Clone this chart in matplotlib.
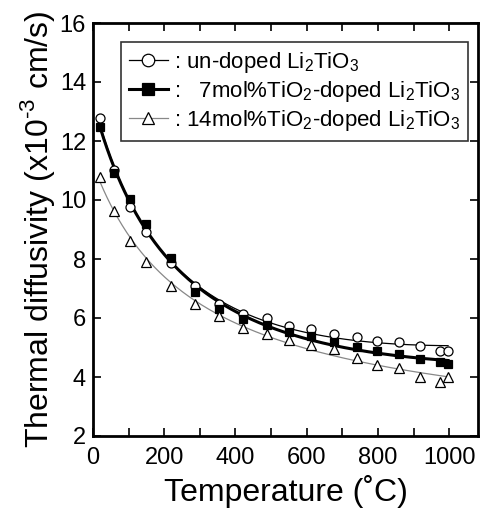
import numpy as np
import matplotlib
matplotlib.use("Agg")
import matplotlib.pyplot as plt
from matplotlib.lines import Line2D

plt.rcParams['font.family'] = ['Liberation Sans', 'DejaVu Sans']
plt.rcParams['mathtext.fontset'] = 'custom'
plt.rcParams['mathtext.rm'] = 'Liberation Sans'

temperature = [20, 60, 105, 150, 218, 286, 353, 420, 488, 551, 613, 676, 741, 797, 858, 917, 973, 997]
undoped = [12.77, 11.02, 9.77, 8.93, 7.87, 7.08, 6.47, 6.14, 6.00, 5.74, 5.64, 5.46, 5.35, 5.23, 5.18, 5.06, 4.89, 4.89]
doped7 = [12.49, 10.9, 10.02, 9.19, 8.02, 6.87, 6.31, 5.96, 5.75, 5.53, 5.38, 5.20, 5.03, 4.89, 4.77, 4.60, 4.50, 4.43]
doped14 = [10.77, 9.63, 8.61, 7.91, 7.09, 6.47, 6.08, 5.67, 5.45, 5.25, 5.08, 4.94, 4.65, 4.41, 4.29, 4.01, 3.84, 4.01]

labels = [": un-doped $\\mathregular{Li_2TiO_3}$",
          ":   7mol%$\\mathregular{TiO_2}$-doped $\\mathregular{Li_2TiO_3}$",
          ": 14mol%$\\mathregular{TiO_2}$-doped $\\mathregular{Li_2TiO_3}$"]

fig = plt.figure(figsize=(4.81, 5.09), dpi=100)
ax = fig.add_axes([93/481, 1-436/509, (478-93)/481, (436-23)/509])

T = np.array(temperature, float)

def fit_curve(y):
    tk = T + 273.0
    A = np.vstack([np.ones_like(tk), 1/tk, tk]).T
    coef, *_ = np.linalg.lstsq(A, np.array(y), rcond=None)
    tt = np.linspace(T.min(), T.max(), 300)
    tk2 = tt + 273.0
    return tt, coef[0] + coef[1]/tk2 + coef[2]*tk2

styles = [
    dict(color='black', lw=0.9, marker='o', mfc='white', mec='black', ms=6.5),
    dict(color='black', lw=2.2, marker='s', mfc='black', mec='black', ms=6),
    dict(color='#888888', lw=0.9, marker='^', mfc='white', mec='black', ms=6.5),
]
handles = []
for y, st in zip([undoped, doped7, doped14], styles):
    tt, yy = fit_curve(y)
    ax.plot(tt, yy, color=st['color'], lw=st['lw'], zorder=2)
    ax.plot(T, y, ls='none', marker=st['marker'], mfc=st['mfc'], mec=st['mec'],
            ms=st['ms'], mew=0.9, zorder=3)
    handles.append(Line2D([], [], color=st['color'], lw=st['lw'], marker=st['marker'],
                          mfc=st['mfc'], mec=st['mec'], ms=st['ms'] + 2.5, mew=0.9))

ax.set_xlim(0, 1081)
ax.set_ylim(2, 16)
ax.set_xticks(range(0, 1001, 200))
ax.set_xticks(range(0, 1001, 100), minor=True)
ax.set_yticks(range(2, 17, 2))
ax.tick_params(which='both', direction='in', top=True, right=True, labelsize=17,
               width=1.2, pad=5)
ax.tick_params(axis='x', which='both', pad=8)
ax.tick_params(which='major', length=6)
ax.tick_params(which='minor', length=6)
for s in ax.spines.values():
    s.set_linewidth(2)

ax.set_xlabel("Temperature (˚C)", fontsize=23, labelpad=4)
ax.set_ylabel("Thermal diffusivity (x10$^{\\text{-3}}$ cm/s)", fontsize=23, labelpad=2)

leg = ax.legend(handles, labels, loc='upper right', bbox_to_anchor=(0.975, 0.953),
                fontsize=16, frameon=True, fancybox=False, edgecolor='black',
                handlelength=1.75, handletextpad=0.3, borderpad=0.35, labelspacing=0.17,
                borderaxespad=0)
leg.get_frame().set_linewidth(1.2)

fig.savefig("out.png", dpi=100)
